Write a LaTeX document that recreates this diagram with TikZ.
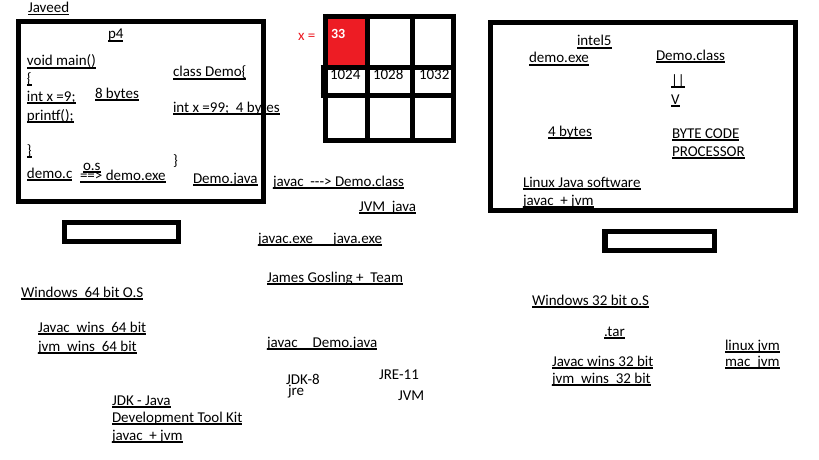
\documentclass[tikz,border=0pt]{standalone}
\usepackage{fontspec}
\setmainfont{Carlito}
\definecolor{paintred}{HTML}{ED1C24}
\tikzset{
  txt/.style={inner sep=0pt, outer sep=0pt, anchor=base west, font=\fontsize{15}{17}\selectfont, text=black},
  uline/.style={line width=1.1pt, draw=black},
  frame/.style={line width=5.2pt, draw=black},
  gridline/.style={line width=5pt, draw=black}
}
\newcommand\utx[4]{\node[txt] (#1) at (#2,{#3-2}) {#4};
  \draw[uline] ([yshift=-2pt]#1.base west) -- ([yshift=-2pt]#1.base east);}
\newcommand\ptx[4]{\node[txt] (#1) at (#2,#3) {#4};}
\begin{document}
\begin{tikzpicture}[x=1pt,y=-1pt]
\useasboundingbox (0,0) rectangle (819,460);
\fill[white] (0,0) rectangle (819,460);

% ---- left monitor texts
\utx{javeed}{28}{14.5}{Javeed}
\utx{pfour}{108}{41}{p4}
\utx{voidmain}{27}{68}{void main()}
\utx{lbrace}{27}{85}{\{}
\utx{intx}{27}{103}{int x =9;}
\utx{eightb}{95}{100}{8 bytes}
\utx{printf}{27}{122}{printf();}
\utx{rbrace}{27}{157}{\}}
\utx{democ}{27}{180}{demo.c}
\utx{os}{83}{172}{o.s}
\utx{democexe}{80}{182}{=={>} demo.exe}
\utx{classdemo}{173}{79}{class Demo\{}
\utx{intxx}{173}{114}{int x =99;\ \ 4 bytes}
\ptx{rbraceb}{173}{165}{\}}
\utx{demojava}{193}{185}{Demo.java}

% ---- middle texts
\utx{javaccls}{273}{188}{javac\ \ -{}-{}-{}> Demo.class}
\utx{jvmjava}{359}{213}{JVM\ \ java}
\utx{javacexe}{258}{245}{javac.exe\hspace{20pt}java.exe}
\utx{gosling}{267}{284}{James Gosling +\ \ Team}
\utx{javacdj}{267}{349}{javac\hspace{15pt}Demo.java}
\ptx{jdkeight}{286}{384.5}{JDK-8}
\ptx{jre}{288}{395}{jre}
\ptx{jreeleven}{379}{379}{JRE-11}
\ptx{jvm}{398}{400}{JVM}

% ---- left bottom texts
\utx{winsixfour}{21}{299}{Windows\ \ 64 bit O.S}
\utx{javacwins}{38}{334}{Javac\ \ wins\ \ 64 bit}
\utx{jvmwins}{38}{353}{jvm\ \ wins\ \ 64 bit}
\utx{jdk}{112}{407}{JDK - Java}
\utx{devkit}{112}{424}{Development Tool Kit}
\utx{javacjvm}{112}{442}{javac\ \ + jvm}

% ---- right bottom texts
\utx{winthree}{532}{307}{Windows 32 bit o.S}
\utx{tar}{604}{338}{.tar}
\utx{javacwinst}{552}{368}{Javac wins 32 bit}
\utx{jvmwinst}{552}{385}{jvm\ \ wins\ \ 32 bit}
\utx{linuxjvm}{725}{352}{linux jvm}
\utx{macjvm}{725}{368}{mac\ \ jvm}

% ---- right monitor texts
\utx{intel}{577}{48}{intel5}
\utx{demoexe}{529}{65}{demo.exe}
\utx{democlass}{656}{62}{Demo.class}
\utx{bars}{671}{87}{||}
\utx{vee}{671}{106}{V}
\utx{fourb}{548}{138}{4 bytes}
\utx{bytecode}{672}{140}{BYTE CODE}
\utx{processor}{672}{158}{PROCESSOR}
\utx{linuxjava}{523}{189}{Linux Java software}
\utx{javacjvmb}{523}{207}{javac\ \ + jvm}

% ---- monitors
\draw[frame] (18.5,21.5) rectangle (263.5,201.5);
\draw[frame] (64.5,222.5) rectangle (178.5,241.5);
\draw[frame] (490.8,22.2) rectangle (795.8,210.7);
\draw[frame] (605,231.5) rectangle (714.5,250.5);

% ---- memory grid
\fill[paintred] (328,19) rectangle (365,65);
\fill[black] (320.7,65) rectangle (328,98);
\draw[gridline] (325.5,14) -- (325.5,143);
\draw[gridline] (367,14) -- (367,143);
\draw[gridline] (412,14) -- (412,143);
\draw[gridline] (453.4,14) -- (453.4,143);
\draw[gridline] (323,16.5) -- (456,16.5);
\draw[gridline] (320.7,67.5) -- (456,67.5);
\draw[gridline] (320.7,95.8) -- (456,95.8);
\draw[gridline] (323,140.5) -- (456,140.5);
\node[txt, text=paintred] (xeq) at (298,41) {x =};
\node[txt, text=white, font=\fontsize{14}{16}\selectfont\bfseries] (val) at (331,39) {33};
\ptx{addra}{330}{80}{1024}
\ptx{addrb}{373}{80}{1028}
\ptx{addrc}{419}{80}{1032}
\end{tikzpicture}
\end{document}
